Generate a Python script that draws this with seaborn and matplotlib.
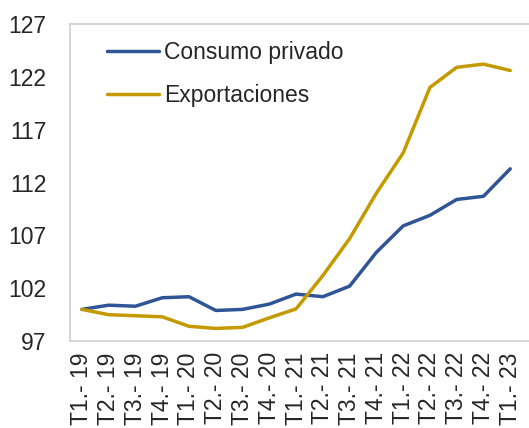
import matplotlib
matplotlib.use('Agg')
import matplotlib.pyplot as plt
import pandas as pd
import seaborn as sns

# trimestres
periodos = ['T1.- 19', 'T2.- 19', 'T3.- 19', 'T4.- 19',
            'T1.- 20', 'T2.- 20', 'T3.- 20', 'T4.- 20',
            'T1.- 21', 'T2.- 21', 'T3.- 21', 'T4.- 21',
            'T1.- 22', 'T2.- 22', 'T3.- 22', 'T4.- 22',
            'T1.- 23']
consumo = [100.0, 100.4, 100.3, 101.1, 101.2, 99.9, 100.0, 100.5, 101.45,
           101.2, 102.2, 105.4, 107.9, 108.9, 110.4, 110.7, 113.3]
exportaciones = [100.0, 99.5, 99.4, 99.3, 98.4, 98.2, 98.3, 99.2, 100.05,
                 103.2, 106.7, 111.0, 114.8, 121.0, 122.9, 123.2, 122.6]

df = pd.DataFrame({'periodo': periodos * 2,
                   'valor': consumo + exportaciones,
                   'serie': ['Consumo privado'] * len(periodos) + ['Exportaciones'] * len(periodos)})
df['x'] = list(range(len(periodos))) * 2

sns.set_style('white')
plt.rcParams['font.family'] = ['Liberation Sans', 'DejaVu Sans']

fig = plt.figure(figsize=(5.29, 4.28), dpi=100)
ax = fig.add_axes([0.132, 0.203, 0.868, 0.741])

sns.lineplot(data=df, x='x', y='valor', hue='serie', ax=ax,
             palette={'Consumo privado': '#2F5597', 'Exportaciones': '#C49A00'},
             linewidth=2.5)

ax.set_xlim(-0.45, 16.7)
ax.set_ylim(97, 127)
ax.set_yticks(range(97, 128, 5))
ax.set_xticks(range(len(periodos)))
ax.set_xticklabels(periodos, rotation=90)
ax.tick_params(axis='y', labelsize=16.5, length=0, pad=17)
ax.tick_params(axis='x', labelsize=16.5, length=0, pad=8)
ax.set_xlabel('')
ax.set_ylabel('')

for s in ['left', 'top', 'bottom']:
    ax.spines[s].set_color('#D0D0D0')
    ax.spines[s].set_linewidth(1.2)
ax.spines['right'].set_visible(False)

leg = ax.legend(loc='upper left', bbox_to_anchor=(0.035, 1.01), frameon=False,
                fontsize=16.5, handlelength=2.3, handletextpad=0.2, labelspacing=0.85)
for h in leg.get_lines():
    h.set_linewidth(2.5)

fig.savefig('out.png', dpi=100)
